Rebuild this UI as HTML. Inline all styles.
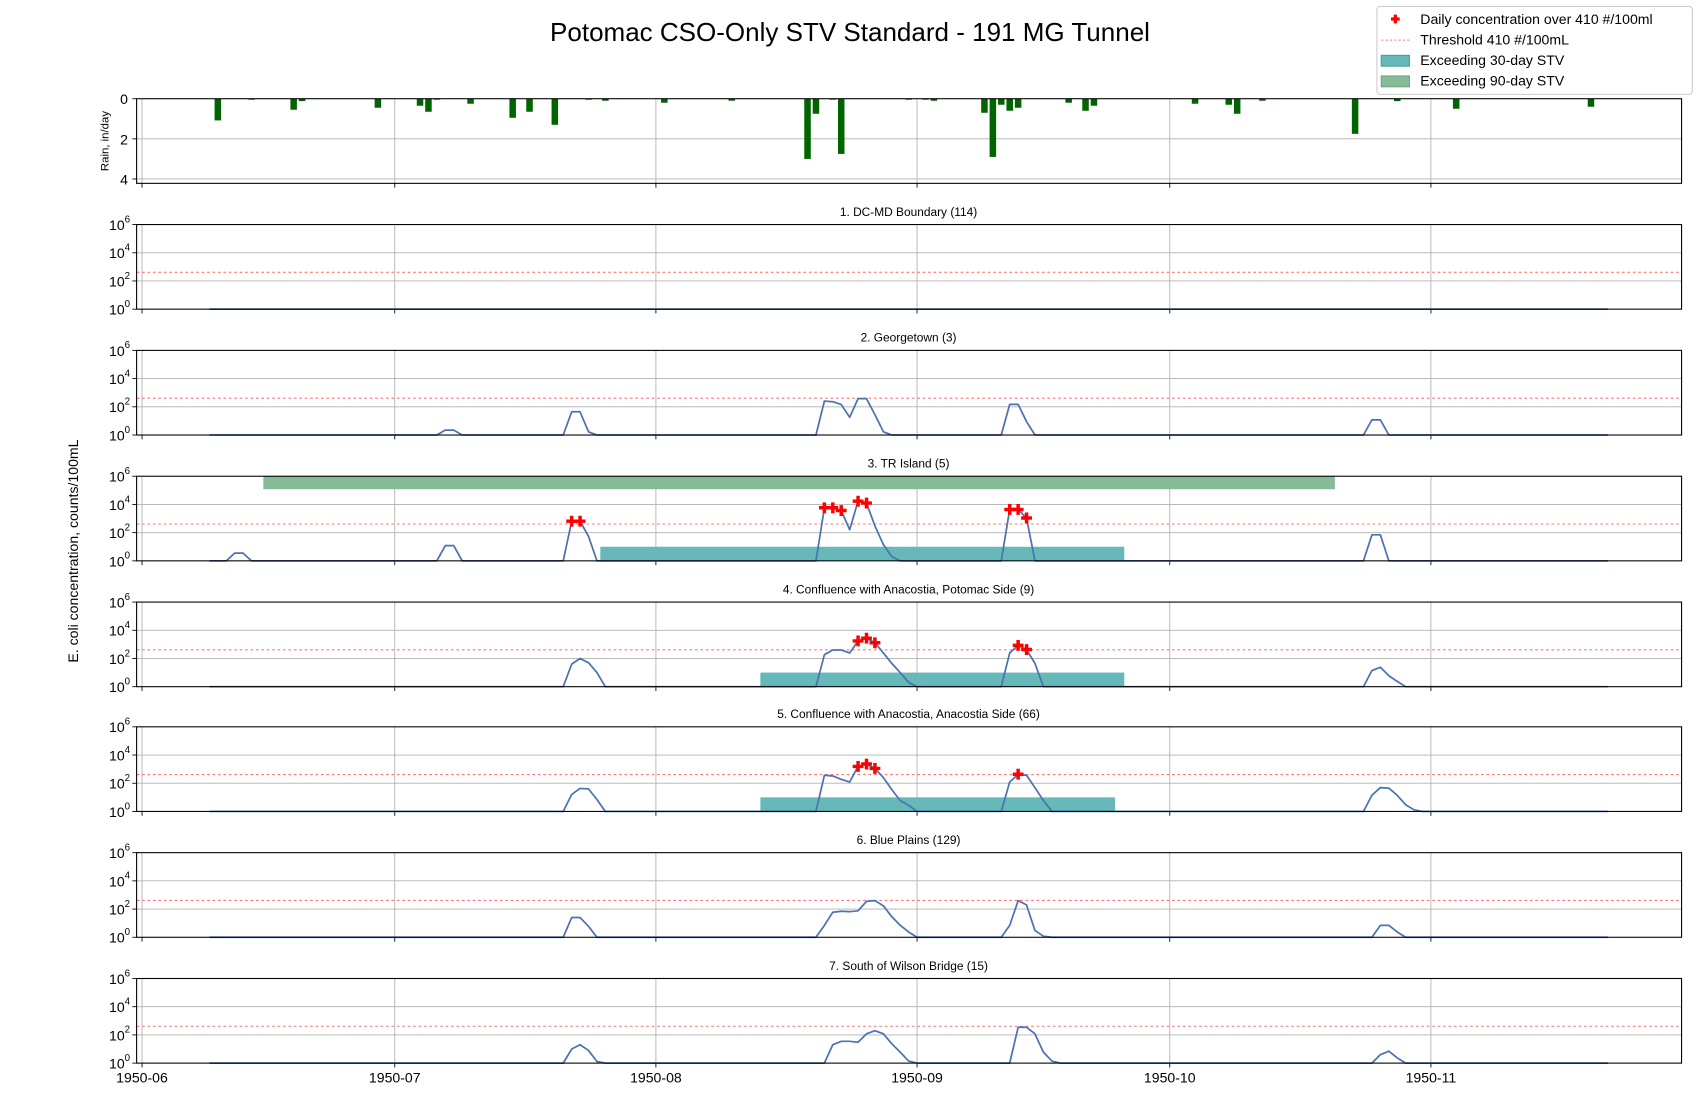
<!DOCTYPE html>
<html><head><meta charset="utf-8">
<style>
html,body{margin:0;padding:0;background:#fff;}
svg{display:block;font-family:"Liberation Sans","DejaVu Sans",sans-serif;}
</style></head>
<body>
<svg id="chart" width="1700" height="1100" viewBox="0 0 1568 1014" preserveAspectRatio="none" xmlns="http://www.w3.org/2000/svg">
<text x="784" y="38" font-size="24" text-anchor="middle">Potomac CSO-Only STV Standard - 191 MG Tunnel</text>
<text transform="translate(100,130) rotate(-90)" font-size="10.5" text-anchor="middle">Rain, in/day</text>
<text transform="translate(72,508) rotate(-90)" font-size="13" text-anchor="middle">E. coli concentration, counts/100mL</text>
<g id="plots"></g>
<g>
<rect x="1270" y="6" width="291" height="81" fill="#fff" stroke="#ccc" rx="3"/>
<g>
<path d="M1283,17.5h8M1287,13.5v8" stroke="red" stroke-width="3"/>
<text x="1310" y="22" font-size="13">Daily concentration over 410 #/100ml</text></g>
<g>
<line x1="1274" y1="37" x2="1300" y2="37" stroke="#f77" stroke-dasharray="2,2"/>
<text x="1310" y="41" font-size="13">Threshold 410 #/100mL</text></g>
<g>
<rect x="1274" y="51" width="26" height="10" fill="#66b9b8" stroke="#48a0a0"/>
<text x="1310" y="60" font-size="13">Exceeding 30-day STV</text></g>
<g>
<rect x="1274" y="70" width="26" height="10" fill="#86bb98" stroke="#6aa880"/>
<text x="1310" y="79" font-size="13">Exceeding 90-day STV</text></g>
</g>
</svg>
<script>
// ---- data (day index = days since 1950-06-01) ----
const monthLabels = ["1950-06","1950-07","1950-08","1950-09","1950-10","1950-11"];
const monthDays = [0,30,61,92,122,153];
const rainDays = [9,13,18,19,28,33,34,35,39,44,46,49,53,55,62,70,79,80,82,83,91,93,94,100,101,102,103,104,110,112,113,125,129,130,133,144,149,156,172];
const rainValues = [1.08,0.05,0.55,0.12,0.45,0.35,0.65,0.05,0.25,0.95,0.65,1.3,0.05,0.1,0.2,0.1,3.0,0.75,0.05,2.75,0.05,0.05,0.1,0.7,2.9,0.3,0.6,0.45,0.2,0.6,0.35,0.25,0.3,0.75,0.1,1.75,0.12,0.5,0.4];
const stationNames = ["1. DC-MD Boundary (114)","2. Georgetown (3)","3. TR Island (5)","4. Confluence with Anacostia, Potomac Side (9)","5. Confluence with Anacostia, Anacostia Side (66)","6. Blue Plains (129)","7. South of Wilson Bridge (15)"];
const s1Days = [];
const s1Vals = [];
const s2Days = [36,37,51,52,53,81,82,83,84,85,86,87,88,103,104,105,146,147];
const s2Vals = [2.2,2.2,44,44,1.7,257,229,148,18,380,380,28,1.7,148,148,9,12,12];
const s3Days = [11,12,36,37,51,52,53,81,82,83,84,85,86,87,88,89,103,104,105,146,147];
const s3Vals = [3.5,3.5,12,12,650,650,55,5800,5800,3700,160,17000,12500,300,14,2,4400,4400,1100,70,70];
const s4Days = [51,52,53,54,81,82,83,84,85,86,87,88,89,90,91,103,104,105,106,146,147,148,149];
const s4Vals = [40,100,50,10,186,400,400,245,1750,2750,1300,245,45,10,2,245,850,430,45,14,24,6,2.4];
const s5Days = [51,52,53,54,81,82,83,84,85,86,87,88,89,90,91,103,104,105,106,107,146,147,148,149,150,151];
const s5Vals = [16,43,40,7,370,330,190,122,1550,2300,1120,250,36,6,2.7,122,435,370,48,6,14,49,45,14,3,1.3];
const s6Days = [51,52,53,81,82,83,84,85,86,87,88,89,90,91,103,104,105,106,107,147,148,149];
const s6Vals = [25,25,6,7,60,70,65,75,350,400,170,29,7,2.4,7,400,200,3,1.2,7,7,2.4];
const s7Days = [51,52,53,54,82,83,84,85,86,87,88,89,90,91,104,105,106,107,108,147,148,149];
const s7Vals = [10,20,8,1.3,20,35,35,30,120,200,120,24,6,1.4,350,350,120,6,1.4,4,7,2.4];
const stv30Start = [null,null,54.4,73.4,73.4,null,null];
const stv30End = [null,null,116.6,116.6,115.5,null,null];
const stv90Start = [null,null,14.4,null,null,null,null];
const stv90End = [null,null,141.6,null,null,null,null];
const threshold = 410;
const firstDay = 8, lastDay = 174;

// ---- layout ----
const NS = "http://www.w3.org/2000/svg";
const L = 126, R = 1551;
const xScale = d => 131 + d * 7.77;
const panelTops = [207,323,439,555,670,786,902];
const PH = 78;
function el(tag, attrs, parent){const e=document.createElementNS(NS,tag);for(const k in attrs)e.setAttribute(k,attrs[k]);parent.appendChild(e);return e;}
const plots = document.getElementById("plots");

function xGrid(g, top, bottom, labels){
  monthDays.forEach((d,i)=>{
    const x = xScale(d);
    const gl = el("line",{x1:x,x2:x,y1:top,y2:bottom,stroke:"#b0b0b0","stroke-width":0.8},g);
    
    
    el("line",{x1:x,x2:x,y1:bottom,y2:bottom+4,stroke:"#000","stroke-width":0.8},g);
    if(labels){
      const t = el("text",{x:x,y:bottom+18,"font-size":13,"text-anchor":"middle"},g);
      t.textContent = monthLabels[i];
      
      
    }
  });
}

// rain panel
{
  const g = el("g",{},plots);
  
  
  const top=91, bottom=169;
  const yR = v => top + v*18.5;
  [2,4].forEach(v=>el("line",{x1:L,x2:R,y1:yR(v),y2:yR(v),stroke:"#b0b0b0","stroke-width":0.8},g));
  xGrid(g, top, bottom, false);
  rainDays.forEach((d,i)=>{
    const b = el("rect",{x:xScale(d)-3,y:top,width:6,height:rainValues[i]*18.5,fill:"#006400"},g);
    
    
  });
  [0,2,4].forEach(v=>{
    el("line",{x1:L-4,x2:L,y1:yR(v),y2:yR(v),stroke:"#000","stroke-width":0.8},g);
    const t=el("text",{x:L-8,y:yR(v)+5,"font-size":13,"text-anchor":"end"},g);t.textContent=v;
    
    
  });
  el("rect",{x:L,y:top,width:R-L,height:bottom-top,fill:"none",stroke:"#000","stroke-width":1},g);
}

const allDays=[s1Days,s2Days,s3Days,s4Days,s5Days,s6Days,s7Days];
const allVals=[s1Vals,s2Vals,s3Vals,s4Vals,s5Vals,s6Vals,s7Vals];

stationNames.forEach((name,si)=>{
  const top = panelTops[si], bottom = top+PH;
  const yL = v => bottom - Math.log10(Math.max(v,1))*PH/6;
  const g = el("g",{},plots);
  
  
  const t = el("text",{x:838,y:top-8,"font-size":11,"text-anchor":"middle"},g);
  t.textContent = name;
  
  
  [100,10000].forEach(v=>el("line",{x1:L,x2:R,y1:yL(v),y2:yL(v),stroke:"#b0b0b0","stroke-width":0.8},g));
  xGrid(g, top, bottom, si===6);
  if(stv90Start[si]!==null){
    const r=el("rect",{x:xScale(stv90Start[si]),y:top,width:xScale(stv90End[si])-xScale(stv90Start[si]),height:12,fill:"#86bb98"},g);
    
    
  }
  if(stv30Start[si]!==null){
    const r=el("rect",{x:xScale(stv30Start[si]),y:yL(10),width:xScale(stv30End[si])-xScale(stv30Start[si]),height:bottom-yL(10),fill:"#66b9b8"},g);
    
    
  }
  const th = el("line",{x1:L,x2:R,y1:yL(threshold),y2:yL(threshold),stroke:"#f77","stroke-width":1,"stroke-dasharray":"2.5,2.5"},g);
  
  
  const days=allDays[si], vals=allVals[si];
  let pts=[];
  for(let d=firstDay; d<=lastDay; d++){
    const k=days.indexOf(d); const v=k>=0?vals[k]:1;
    pts.push(xScale(d).toFixed(1)+","+yL(v).toFixed(1));
  }
  const pl = el("polyline",{points:pts.join(" "),fill:"none",stroke:"#4c72b0","stroke-width":1.6,"stroke-linejoin":"round"},g);
  
  
  days.forEach((d,k)=>{
    if(vals[k]>threshold){
      const x=xScale(d), y=yL(vals[k]);
      const m=el("path",{d:`M${x-5},${y}h10M${x},${y-5}v10`,stroke:"red","stroke-width":3.2},g);
      
      
    }
  });
  [0,2,4,6].forEach(p=>{
    const y=yL(Math.pow(10,p));
    el("line",{x1:L-4,x2:L,y1:y,y2:y,stroke:"#000","stroke-width":0.8},g);
    const tl=el("text",{x:L-11,y:y+5,"font-size":13,"text-anchor":"end"},g);
    tl.textContent="10";
    
    
    const sp=el("text",{x:L-11,y:y-2,"font-size":9,"text-anchor":"start"},g);
    sp.textContent=p;
  });
  el("rect",{x:L,y:top,width:R-L,height:PH,fill:"none",stroke:"#000","stroke-width":1},g);
});
</script>
</body></html>
